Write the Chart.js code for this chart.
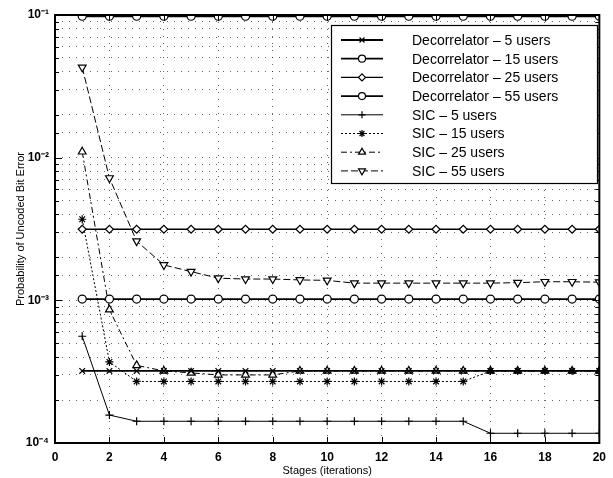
<!DOCTYPE html>
<html>
<head>
<meta charset="utf-8">
<title>Probability of Uncoded Bit Error</title>
<script src="https://cdn.jsdelivr.net/npm/chart.js@4.4.1/dist/chart.umd.min.js"></script>
<style>
    html, body { margin: 0; padding: 0; background: #fff; }
    #wrap { width: 613px; height: 478px; }
</style>
</head>
<body>
<div id="wrap"><canvas id="berChart" width="613" height="478"></canvas></div>
<script>
// Stage index (x axis)
const stages = [1, 2, 3, 4, 5, 6, 7, 8, 9, 10, 11, 12, 13, 14, 15, 16, 17, 18, 19, 20];

// Decorrelator error rates (flat across stages)
const dec5  = [3.2e-4, 3.2e-4, 3.2e-4, 3.2e-4, 3.2e-4, 3.2e-4, 3.2e-4, 3.2e-4, 3.2e-4, 3.2e-4,
               3.2e-4, 3.2e-4, 3.2e-4, 3.2e-4, 3.2e-4, 3.2e-4, 3.2e-4, 3.2e-4, 3.2e-4, 3.2e-4];
const dec15 = [1.02e-3, 1.02e-3, 1.02e-3, 1.02e-3, 1.02e-3, 1.02e-3, 1.02e-3, 1.02e-3, 1.02e-3, 1.02e-3,
               1.02e-3, 1.02e-3, 1.02e-3, 1.02e-3, 1.02e-3, 1.02e-3, 1.02e-3, 1.02e-3, 1.02e-3, 1.02e-3];
const dec25 = [3.15e-3, 3.15e-3, 3.15e-3, 3.15e-3, 3.15e-3, 3.15e-3, 3.15e-3, 3.15e-3, 3.15e-3, 3.15e-3,
               3.15e-3, 3.15e-3, 3.15e-3, 3.15e-3, 3.15e-3, 3.15e-3, 3.15e-3, 3.15e-3, 3.15e-3, 3.15e-3];
const dec55 = [0.098, 0.098, 0.098, 0.098, 0.098, 0.098, 0.098, 0.098, 0.098, 0.098,
               0.098, 0.098, 0.098, 0.098, 0.098, 0.098, 0.098, 0.098, 0.098, 0.098];

// SIC error rates per stage
const sic5  = [5.6e-4, 1.57e-4, 1.42e-4, 1.42e-4, 1.42e-4, 1.42e-4, 1.42e-4, 1.42e-4, 1.42e-4, 1.42e-4,
               1.42e-4, 1.42e-4, 1.42e-4, 1.42e-4, 1.42e-4, 1.17e-4, 1.17e-4, 1.17e-4, 1.17e-4, 1.17e-4];
const sic15 = [3.7e-3, 3.7e-4, 2.7e-4, 2.7e-4, 2.7e-4, 2.7e-4, 2.7e-4, 2.7e-4, 2.7e-4, 2.7e-4,
               2.7e-4, 2.7e-4, 2.7e-4, 2.7e-4, 2.7e-4, 3.2e-4, 3.2e-4, 3.2e-4, 3.2e-4, 3.2e-4];
const sic25 = [1.1e-2, 8.6e-4, 3.5e-4, 3.2e-4, 3.1e-4, 3.0e-4, 3.0e-4, 3.0e-4, 3.2e-4, 3.2e-4,
               3.2e-4, 3.2e-4, 3.2e-4, 3.2e-4, 3.2e-4, 3.2e-4, 3.2e-4, 3.2e-4, 3.2e-4, 3.2e-4];
const sic55 = [4.3e-2, 7.2e-3, 2.6e-3, 1.77e-3, 1.59e-3, 1.43e-3, 1.41e-3, 1.41e-3, 1.39e-3, 1.38e-3,
               1.32e-3, 1.32e-3, 1.32e-3, 1.32e-3, 1.32e-3, 1.32e-3, 1.33e-3, 1.35e-3, 1.35e-3, 1.34e-3];

const seriesLabels = [
    'Decorrelator \u2013 5 users', 'Decorrelator \u2013 15 users',
    'Decorrelator \u2013 25 users', 'Decorrelator \u2013 55 users',
    'SIC \u2013 5 users', 'SIC \u2013 15 users', 'SIC \u2013 25 users', 'SIC \u2013 55 users'
];
const seriesData = [dec5, dec15, dec25, dec55, sic5, sic15, sic25, sic55];

// x range / tick step
const xMin = 0, xMax = 20, xStep = 2;
const yMin = 1e-4, yMax = 1e-1;

// Line / marker look for each series
const styles = [
    { pointStyle: 'crossRot', radius: 4, width: 1.8, dash: [],           fill: '#000', rot: 0 },
    { pointStyle: 'circle',   radius: 4, width: 1.8, dash: [],           fill: '#fff', rot: 0 },
    { pointStyle: 'rectRot',  radius: 4, width: 1.3, dash: [],           fill: '#fff', rot: 0 },
    { pointStyle: 'circle',   radius: 4, width: 1.8, dash: [],           fill: '#fff', rot: 0 },
    { pointStyle: 'cross',    radius: 4, width: 1,   dash: [],           fill: '#000', rot: 0 },
    { pointStyle: 'star',     radius: 4, width: 1,   dash: [2, 2],       fill: '#000', rot: 0 },
    { pointStyle: 'triangle', radius: 4.5, width: 1, dash: [6, 3, 2, 3], fill: '#fff', rot: 0 },
    { pointStyle: 'triangle', radius: 4.5, width: 1, dash: [7, 3],       fill: '#fff', rot: 180 }
];

const datasets = seriesData.map((arr, i) => ({
    label: seriesLabels[i],
    data: stages.map((s, j) => ({ x: s, y: arr[j] })),
    borderColor: '#000',
    borderWidth: styles[i].width,
    borderDash: styles[i].dash,
    pointStyle: styles[i].pointStyle,
    pointRadius: styles[i].radius,
    pointRotation: styles[i].rot,
    pointBackgroundColor: styles[i].fill,
    pointBorderColor: '#000',
    pointBorderWidth: 1.2,
    tension: 0,
    fill: false
}));

const supMap = { '-': '\u207B', '0': '\u2070', '1': '\u00B9', '2': '\u00B2', '3': '\u00B3', '4': '\u2074',
                 '5': '\u2075', '6': '\u2076', '7': '\u2077', '8': '\u2078', '9': '\u2079' };
const sup = n => String(n).split('').map(c => supMap[c] || c).join('');

// Axes frame with inward tick marks
const framePlugin = {
    id: 'frame',
    afterDatasetsDraw(chart) {
        const { ctx, chartArea: a, scales } = chart;
        ctx.save();
        ctx.strokeStyle = '#000';
        ctx.lineWidth = 1;
        scales.y.ticks.forEach(t => {
            const py = Math.round(scales.y.getPixelForValue(t.value)) + 0.5;
            const e = Math.log10(t.value);
            const len = Math.abs(e - Math.round(e)) < 1e-9 ? 7 : 4;
            ctx.beginPath();
            ctx.moveTo(a.left, py); ctx.lineTo(a.left + len, py);
            ctx.moveTo(a.right, py); ctx.lineTo(a.right - len, py);
            ctx.stroke();
        });
        scales.x.ticks.forEach(t => {
            const px = Math.round(scales.x.getPixelForValue(t.value)) + 0.5;
            ctx.beginPath();
            ctx.moveTo(px, a.bottom); ctx.lineTo(px, a.bottom - 6);
            ctx.moveTo(px, a.top); ctx.lineTo(px, a.top + 6);
            ctx.stroke();
        });
        ctx.lineWidth = 2;
        ctx.strokeRect(a.left, a.top, a.right - a.left, a.bottom - a.top);
        ctx.restore();
    }
};

// Boxed legend inside the plot, upper right
const boxLegendPlugin = {
    id: 'boxLegend',
    afterDraw(chart) {
        const { ctx } = chart;
        const bx = 331, by = 25, bw = 266, bh = 158;
        ctx.save();
        ctx.fillStyle = '#fff';
        ctx.fillRect(bx, by, bw, bh);
        ctx.strokeStyle = '#000';
        ctx.lineWidth = 1.2;
        ctx.strokeRect(bx + 0.5, by + 0.5, bw, bh);
        ctx.font = '14px "Liberation Sans", Arial, sans-serif';
        ctx.textBaseline = 'middle';
        chart.data.datasets.forEach((ds, i) => {
            const y = by + 15 + i * 18.7;
            ctx.strokeStyle = '#000';
            ctx.lineWidth = ds.borderWidth;
            ctx.setLineDash(ds.borderDash);
            ctx.beginPath();
            ctx.moveTo(341, y); ctx.lineTo(383, y);
            ctx.stroke();
            ctx.setLineDash([]);
            ctx.fillStyle = ds.pointBackgroundColor;
            ctx.lineWidth = ds.pointBorderWidth;
            Chart.helpers.drawPoint(ctx, {
                pointStyle: ds.pointStyle, radius: ds.pointRadius - 0.5, rotation: ds.pointRotation, borderWidth: ds.pointBorderWidth
            }, 362, y);
            ctx.fillStyle = '#000';
            ctx.fillText(ds.label, 412, y + 1);
        });
        ctx.restore();
    }
};

new Chart(document.getElementById('berChart'), {
    type: 'line',
    data: { datasets },
    options: {
        responsive: false,
        animation: false,
        devicePixelRatio: 1,
        layout: { padding: { top: 15, right: 11, left: 0, bottom: 0 } },
        plugins: { legend: { display: false }, tooltip: { enabled: false } },
        scales: {
            x: {
                type: 'linear',
                min: xMin, max: xMax,
                ticks: {
                    stepSize: xStep, color: '#000', padding: 7,
                    font: { family: '"Liberation Sans", Arial, sans-serif', size: 12, weight: 'bold' }
                },
                grid: { color: 'rgba(0,0,0,0.6)', lineWidth: 1, drawTicks: false },
                border: { display: false, dash: [1, 6] },
                title: {
                    display: true, text: 'Stages (iterations)', color: '#000', padding: { top: 0, bottom: 0 },
                    font: { family: '"Liberation Sans", Arial, sans-serif', size: 11 }
                },
                afterFit(scale) { scale.height = 35; }
            },
            y: {
                type: 'logarithmic',
                min: yMin, max: yMax,
                ticks: {
                    autoSkip: false, color: '#000', padding: 6,
                    font: { family: '"Liberation Sans", Arial, sans-serif', size: 12, weight: 'bold' },
                    callback(v) {
                        const e = Math.log10(v);
                        return Math.abs(e - Math.round(e)) < 1e-9 ? '10' + sup(Math.round(e)) : '';
                    }
                },
                grid: { color: 'rgba(0,0,0,0.6)', lineWidth: 1, drawTicks: false },
                border: { display: false, dash: [1, 6] },
                title: {
                    display: true, text: 'Probability of Uncoded Bit Error', color: '#000', padding: { top: 14, bottom: 0 },
                    font: { family: '"Liberation Sans", Arial, sans-serif', size: 11 }
                },
                afterFit(scale) { scale.width = 55; }
            }
        }
    },
    plugins: [framePlugin, boxLegendPlugin]
});
</script>
</body>
</html>
